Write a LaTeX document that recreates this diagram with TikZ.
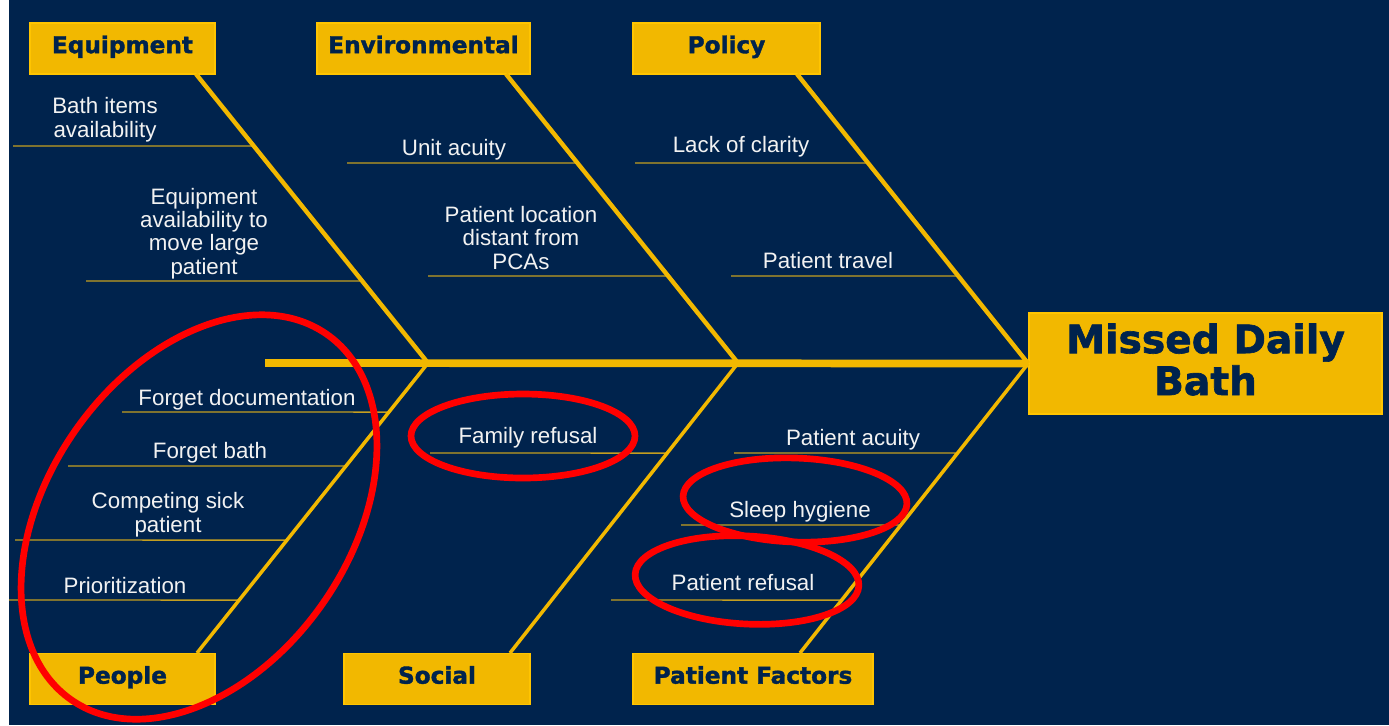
\documentclass[tikz,border=0pt]{standalone}
\usepackage{fontspec}
\setmainfont{Liberation Sans}
\newfontfamily\headfont{DejaVu Sans Bold}[FakeBold=1.6]
\usetikzlibrary{calc}

\definecolor{navy}{RGB}{0,35,77}
\definecolor{gold}{RGB}{242,184,0}
\definecolor{goldedge}{RGB}{255,196,0}
\definecolor{twigcol}{RGB}{196,158,32}
\definecolor{paper}{RGB}{242,242,242}

\begin{document}
\begin{tikzpicture}[x=0.02cm,y=-0.02cm,
  cat/.style={draw=goldedge,line width=1pt,fill=gold,text=navy,inner sep=0pt,
    font=\headfont\fontsize{13.2}{15}\selectfont,
    minimum height=1.02cm,text height=0.76em,text depth=0.23em},
  cause/.style={text=paper,align=center,anchor=base,inner sep=0pt,
    font=\fontsize{12.7}{13.2}\selectfont},
  bone/.style={draw=gold,line width=2.5pt},
  lowbone/.style={draw=gold,line width=2pt},
  twig/.style={draw=twigcol,line width=.8pt},
  ring/.style={draw=red,line width=3.8pt}]
\useasboundingbox (0,0) rectangle (1389,725);
\fill[white] (0,0) rectangle (1389,725);
\fill[navy] (9,0) rectangle (1389,725);

% category boxes and the effect
\node[cat,minimum width=3.70cm] (eq)  at (122.5,48.5) {Equipment};
\node[cat,minimum width=4.26cm] (env) at (423.5,48.5) {Environmental};
\node[cat,minimum width=3.74cm] (pol) at (726.5,48.5) {Policy};
\node[cat,minimum width=3.70cm] (peo) at (122.5,679) {People};
\node[cat,minimum width=3.72cm] (soc) at (437,679) {Social};
\node[cat,minimum width=4.80cm] (pf)  at (753,679) {Patient Factors};
\node[cat,minimum width=7.06cm,minimum height=2.02cm] (head) at (1205.5,363.5) {};
% base of a multi-line node sits on its last line
\node[anchor=base,align=center,text=navy,inner sep=0pt,
  font=\headfont\fontsize{22.3}{23.8}\selectfont] (headtxt) at (1205.5,395) {Missed Daily\\Bath};

% spine and bones
\coordinate (tail) at (265,363);
\coordinate (j1) at (428,363);
\coordinate (j2) at (738,363);
\coordinate (b1) at (196,74);
\coordinate (b2) at (506,74);
\coordinate (b3) at (797,74);
\coordinate (b4) at (197,653);
\coordinate (b5) at (510,653);
\coordinate (b6) at (800,653);

% causes
\node[cause] (bath)    at (105,137) {Bath items\\availability};
\node[cause] (eqmove)  at (204,274) {Equipment\\availability to\\move large\\patient};
\node[cause] (acuity)  at (454,155) {Unit acuity};
\node[cause] (loc)     at (521,269) {Patient location\\distant from\\PCAs};
\node[cause] (clarity) at (741,152) {Lack of clarity};
\node[cause] (travel)  at (828,268) {Patient travel};
\node[cause] (fdoc)    at (247,405) {Forget documentation};
\node[cause] (fbath)   at (210,458) {Forget bath};
\node[cause] (sick)    at (168,532) {Competing sick\\patient};
\node[cause] (prio)    at (125,593) {Prioritization};
\node[cause] (famref)  at (528,443) {Family refusal};
\node[cause] (pacuity) at (853,445) {Patient acuity};
\node[cause] (sleep)   at (800,517) {Sleep hygiene};
\node[cause] (pref)    at (743,590) {Patient refusal};

% underlines, each running into its bone
\foreach \xa/\yy/\p/\q [count=\n] in {13/146/b1/j1, 86/281/b1/j1,
    347/163/b2/j2, 428/276/b2/j2, 635/163/b3/head.west, 731/276/b3/head.west,
    122/412/j1/b4, 68/466/j1/b4, 15/540/j1/b4, 9/600/j1/b4,
    430/453/j2/b5,
    734/453/head.west/b6, 681/525/head.west/b6, 611/600/head.west/b6}{
  \coordinate (u\n) at (\xa,\yy);
  \draw[twig] (u\n) -- (intersection cs:first line={(u\n)--(1389,\yy)},
    second line={(\p)--(\q)});
}

\draw[gold,line width=4.4pt] (tail) -- (head.west);
\draw[bone] (b1) -- (j1);
\draw[bone] (b2) -- (j2);
\draw[bone] (b3) -- (head.west);
\draw[lowbone] (b4) -- (j1);
\draw[lowbone] (b5) -- (j2);
\draw[lowbone] (b6) -- (head.west);

% red rings
\draw[ring,rotate around={55:(199,517)}] (199,517) ellipse [x radius=223,y radius=151];
\draw[ring] (523,436) ellipse [x radius=112,y radius=42];
\draw[ring,rotate around={-2:(795,500)}] (795,500) ellipse [x radius=112,y radius=42];
\draw[ring,rotate around={-3:(747,580)}] (747,580) ellipse [x radius=112,y radius=44];
\end{tikzpicture}
\end{document}
